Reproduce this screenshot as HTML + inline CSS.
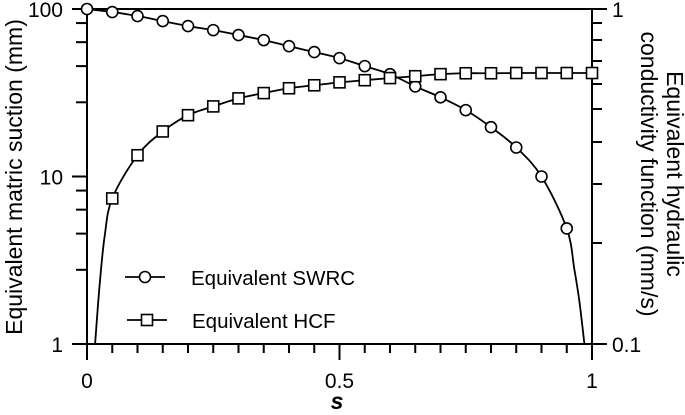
<!DOCTYPE html>
<html><head><meta charset="utf-8"><style>
html,body{margin:0;padding:0;background:#fff;}
svg{display:block;font-family:"Liberation Sans",Arial,sans-serif;}
</style></head><body>
<svg id="chart" width="685" height="415" viewBox="0 0 685 415"></svg>
<script>
const sValues=[0,0.05,0.1,0.15,0.2,0.25,0.3,0.35,0.4,0.45,0.5,0.55,0.6,0.65,0.7,0.75,0.8,0.85,0.9,0.95];
const swrcValues=[100,95.9,90.8,84.7,79.1,74.8,69.9,65.2,60.0,55.3,50.9,45.6,40.8,34.5,29.7,24.9,19.7,14.9,10,4.9];
const swrcTailS=[0.965,0.975,0.985];
const swrcTailValues=[2.8,1.8,1.0];
const hcfS=[0.05,0.1,0.15,0.2,0.25,0.3,0.35,0.4,0.45,0.5,0.55,0.6,0.65,0.7,0.75,0.8,0.85,0.9,0.95,1.0];
const hcfValues=[0.272,0.366,0.431,0.482,0.512,0.541,0.561,0.580,0.592,0.604,0.613,0.622,0.630,0.639,0.643,0.643,0.644,0.644,0.644,0.644];
const hcfHeadS=[0.016,0.025,0.035];
const hcfHeadValues=[0.1,0.15,0.21];
const xTicks=[0,0.5,1];
const xTickLabels=["0","0.5","1"];
const leftTicks=[1,10,100];
const leftTickLabels=["1","10","100"];
const rightTicks=[0.1,1];
const rightTickLabels=["0.1","1"];

const NS="http://www.w3.org/2000/svg";
const svg=document.getElementById('chart');
const X0=87,X1=592,YT=9,YB=344;
const xs=s=>X0+s*(X1-X0);
const yl=v=>YB-(Math.log10(v)-0)/2*(YB-YT);
const yr=v=>YB-(Math.log10(v)+1)*(YB-YT);
function el(tag,attrs,parent){const e=document.createElementNS(NS,tag);for(const k in attrs)e.setAttribute(k,attrs[k]);(parent||svg).appendChild(e);return e;}

let g=el('g',{});


el('line',{x1:X0,y1:YT,x2:X1,y2:YT,stroke:'#000','stroke-width':2},g);
el('line',{x1:X0,y1:YB,x2:X1,y2:YB,stroke:'#000','stroke-width':2},g);
el('line',{x1:X0,y1:YT,x2:X0,y2:YB,stroke:'#000','stroke-width':2},g);
el('line',{x1:X1,y1:YT,x2:X1,y2:YB,stroke:'#000','stroke-width':2},g);

for(let i=0;i<=20;i++){const s=i/20;const major=(i%10===0);
 el('line',{x1:xs(s),y1:YB,x2:xs(s),y2:YB+(major?16:9),stroke:'#000','stroke-width':2});}
xTicks.forEach((t,i)=>{const e=el('text',{x:xs(t),y:388,'text-anchor':'middle','font-size':21});e.textContent=xTickLabels[i];
 
 });
leftTicks.forEach((t,i)=>{el('line',{x1:X0-15,y1:yl(t),x2:X0,y2:yl(t),stroke:'#000','stroke-width':2});
 const e=el('text',{x:63,y:yl(t)+8,'text-anchor':'end','font-size':21});e.textContent=leftTickLabels[i];
 
 });
[0.084,0.198,0.341,0.557].forEach(f=>{[0,1].forEach(d=>{const y=YT+(d+f)*(YB-YT)/2;if(y<YB)el('line',{x1:X0-11,y1:y,x2:X0,y2:y,stroke:'#000','stroke-width':2});});});
rightTicks.forEach((t,i)=>{el('line',{x1:X1,y1:yr(t),x2:X1+15,y2:yr(t),stroke:'#000','stroke-width':2});
 const e=el('text',{x:612,y:yr(t)+8,'font-size':21});e.textContent=rightTickLabels[i];
 
 });
[23,40,61,84,109,142,184,243].forEach(y=>el('line',{x1:X1,y1:y,x2:X1+10,y2:y,stroke:'#000','stroke-width':2}));

let t=el('text',{x:0,y:0,'font-size':23,'text-anchor':'middle',transform:'translate(22,177) rotate(-90)'});t.textContent='Equivalent matric suction (mm)';

t=el('text',{x:0,y:0,'font-size':23,'text-anchor':'middle',transform:'translate(667,174) rotate(90)'});t.textContent='Equivalent hydraulic';

t=el('text',{x:0,y:0,'font-size':23,'text-anchor':'middle',transform:'translate(641,174) rotate(90)'});t.textContent='conductivity function (mm/s)';

t=el('text',{x:337,y:409,'font-size':23,'font-style':'italic','font-weight':'bold','text-anchor':'middle'});t.textContent='s';


function smooth(pts){let d='M'+pts[0][0]+','+pts[0][1];
 for(let i=0;i<pts.length-1;i++){const p0=pts[Math.max(0,i-1)],p1=pts[i],p2=pts[i+1],p3=pts[Math.min(pts.length-1,i+2)];
  d+=' C'+(p1[0]+(p2[0]-p0[0])/6)+','+(p1[1]+(p2[1]-p0[1])/6)+' '+(p2[0]-(p3[0]-p1[0])/6)+','+(p2[1]-(p3[1]-p1[1])/6)+' '+p2[0]+','+p2[1];}
 return d;}

const swrcPts=sValues.map((s,i)=>[xs(s),yl(swrcValues[i])]).concat(swrcTailS.map((s,i)=>[xs(s),yl(swrcTailValues[i])]));
let p=el('path',{d:smooth(swrcPts),fill:'none',stroke:'#000','stroke-width':1.8});

sValues.forEach((s,i)=>{const c=el('circle',{cx:xs(s),cy:yl(swrcValues[i]),r:5.5,fill:'#fff',stroke:'#000','stroke-width':1.6});
 
 });

const hcfPts=hcfHeadS.map((s,i)=>[xs(s),yr(hcfHeadValues[i])]).concat(hcfS.map((s,i)=>[xs(s),yr(hcfValues[i])]));
p=el('path',{d:smooth(hcfPts),fill:'none',stroke:'#000','stroke-width':1.8});

hcfS.forEach((s,i)=>{const r=el('rect',{x:xs(s)-5.5,y:yr(hcfValues[i])-5.5,width:11,height:11,fill:'#fff',stroke:'#000','stroke-width':1.6});
 
 });

const lg=el('g',{});

el('line',{x1:125,y1:277,x2:165,y2:277,stroke:'#000','stroke-width':1.8},lg);
el('circle',{cx:145,cy:277,r:5.5,fill:'#fff',stroke:'#000','stroke-width':1.6},lg);
t=el('text',{x:191,y:285,'font-size':20.5},lg);t.textContent='Equivalent SWRC';

el('line',{x1:127,y1:320,x2:167,y2:320,stroke:'#000','stroke-width':1.8},lg);
el('rect',{x:141.5,y:314.5,width:11,height:11,fill:'#fff',stroke:'#000','stroke-width':1.6},lg);
t=el('text',{x:192,y:328,'font-size':20.5},lg);t.textContent='Equivalent HCF';

</script>
</body></html>
